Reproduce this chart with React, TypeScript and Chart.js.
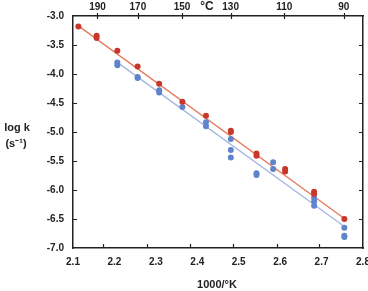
import React, { useEffect, useRef } from "react";
import { Chart, registerables } from "chart.js";

Chart.register(...registerables);

const redX = [2.113, 2.157, 2.157, 2.207, 2.256, 2.308, 2.364, 2.421, 2.481, 2.481, 2.543, 2.543, 2.612, 2.612, 2.682, 2.682, 2.755];
const redY = [-3.18, -3.34, -3.38, -3.6, -3.87, -4.17, -4.48, -4.72, -4.98, -5.0, -5.37, -5.41, -5.64, -5.68, -6.03, -6.07, -6.5];

const blueX = [2.207, 2.207, 2.256, 2.256, 2.308, 2.308, 2.364, 2.421, 2.421, 2.481, 2.481, 2.481, 2.543, 2.543, 2.583, 2.583, 2.682, 2.682, 2.682, 2.755, 2.755, 2.755];
const blueY = [-3.8, -3.85, -4.05, -4.07, -4.28, -4.32, -4.57, -4.83, -4.9, -5.12, -5.31, -5.44, -5.71, -5.74, -5.52, -5.64, -6.14, -6.2, -6.27, -6.65, -6.79, -6.81];

const redLineX = [2.113, 2.755];
const redLineY = [-3.17, -6.49];
const blueLineX = [2.207, 2.755];
const blueLineY = [-3.8, -6.63];

const celsiusTicks = [190, 170, 150, 130, 110, 90];
const bottomMarks = [2.172, 2.279, 2.382, 2.486, 2.592, 2.694];
const yMarks = [-6.5, -6.0, -5.5, -5.0, -4.5, -4.0, -3.5];

const FONT = "'Liberation Sans', Arial, sans-serif";
const INK = "#222";

const zip = (xs: number[], ys: number[]) => xs.map((x, i) => ({ x, y: ys[i] }));
const c2inv = (c: number) => 1000 / (c + 273.15);

const fitter = (size: { w?: number; h?: number }) => (scale: any) => {
  if (size.w !== undefined) scale.width = size.w;
  if (size.h !== undefined) scale.height = size.h;
  scale.paddingLeft = 0;
  scale.paddingRight = 0;
  scale.paddingTop = 0;
  scale.paddingBottom = 0;
};

const decor = {
  id: "decor",
  afterDraw(chart: any) {
    const ctx = chart.ctx;
    const a = chart.chartArea;
    const sx = chart.scales.x;
    const sy = chart.scales.y;
    ctx.save();
    ctx.strokeStyle = INK;
    ctx.lineWidth = 1.2;
    ctx.beginPath();
    yMarks.forEach((v) => {
      const py = Math.round(sy.getPixelForValue(v)) + 0.5;
      ctx.moveTo(a.left, py);
      ctx.lineTo(a.left + 4, py);
      ctx.moveTo(a.right, py);
      ctx.lineTo(a.right - 4, py);
    });
    celsiusTicks.forEach((c) => {
      const px = Math.round(sx.getPixelForValue(c2inv(c))) + 0.5;
      ctx.moveTo(px, a.top - 3);
      ctx.lineTo(px, a.top + 3);
    });
    bottomMarks.forEach((v) => {
      const px = Math.round(sx.getPixelForValue(v)) + 0.5;
      ctx.moveTo(px, a.bottom);
      ctx.lineTo(px, a.bottom - 4);
    });
    ctx.stroke();

    ctx.fillStyle = INK;
    ctx.textAlign = "center";
    ctx.textBaseline = "middle";
    ctx.font = `bold 11px ${FONT}`;
    ctx.fillText("log k", 17, 128);
    ctx.fillText("(s\u207B\u00B9)", 16, 144);
    ctx.fillText("1000/\u00B0K", 217, 285);
    ctx.font = `bold 12px ${FONT}`;
    ctx.fillText("\u00B0C", 207, 7);
    ctx.restore();
  },
};

export default function App() {
  const ref = useRef<HTMLCanvasElement | null>(null);
  useEffect(() => {
    document.body.style.margin = "0";
    if (!ref.current) return;
    const tickFont = { family: FONT, size: 10, weight: "bold" as const };
    const chart = new Chart(ref.current, {
      type: "scatter",
      data: {
        datasets: [
          {
            data: zip(redLineX, redLineY),
            showLine: true,
            borderColor: "#E5785C",
            borderWidth: 1.3,
            pointRadius: 0,
            order: 3,
          },
          {
            data: zip(blueLineX, blueLineY),
            showLine: true,
            borderColor: "#A3B6E2",
            borderWidth: 1.3,
            pointRadius: 0,
            order: 4,
          },
          {
            data: zip(blueX, blueY),
            backgroundColor: "#5F84CC",
            borderColor: "#5F84CC",
            pointRadius: 3,
            borderWidth: 0,
            order: 2,
          },
          {
            data: zip(redX, redY),
            backgroundColor: "#C8382A",
            borderColor: "#C8382A",
            pointRadius: 3,
            borderWidth: 0,
            order: 1,
          },
        ],
      },
      options: {
        animation: false,
        responsive: true,
        maintainAspectRatio: false,
        layout: { padding: 0 },
        plugins: { legend: { display: false }, tooltip: { enabled: false } },
        scales: {
          x: {
            type: "linear",
            position: "bottom",
            min: 2.1,
            max: 2.8,
            afterFit: fitter({ h: 43 }),
            grid: { display: true, drawOnChartArea: false, drawTicks: false },
            border: { display: true, color: INK, width: 1.5 },
            ticks: {
              stepSize: 0.1,
              autoSkip: false,
              maxRotation: 0,
              padding: 8,
              color: INK,
              font: tickFont,
              callback: (v: any) => Number(v).toFixed(1),
            },
          },
          x2: {
            type: "linear",
            position: "top",
            min: 2.1,
            max: 2.8,
            afterFit: fitter({ h: 16 }),
            afterBuildTicks: (scale: any) => {
              scale.ticks = celsiusTicks.map((c) => ({ value: c2inv(c) }));
            },
            grid: { display: true, drawOnChartArea: false, drawTicks: false },
            border: { display: true, color: INK, width: 1.5 },
            ticks: {
              autoSkip: false,
              maxRotation: 0,
              padding: 3,
              color: INK,
              font: tickFont,
              callback: (v: any) => String(Math.round(1000 / Number(v) - 273.15)),
            },
          },
          y: {
            type: "linear",
            position: "left",
            min: -7,
            max: -3,
            afterFit: fitter({ w: 73 }),
            grid: { display: true, drawOnChartArea: false, drawTicks: false },
            border: { display: true, color: INK, width: 1.5 },
            ticks: {
              stepSize: 0.5,
              autoSkip: false,
              padding: 9,
              color: INK,
              font: tickFont,
              callback: (v: any) => Number(v).toFixed(1),
            },
          },
          y2: {
            type: "linear",
            position: "right",
            min: -7,
            max: -3,
            afterFit: fitter({ w: 5 }),
            grid: { display: true, drawOnChartArea: false, drawTicks: false },
            border: { display: true, color: INK, width: 1.5 },
            ticks: { display: false },
          },
        },
      },
      plugins: [decor],
    });
    return () => chart.destroy();
  }, []);
  return (
    <div style={{ width: 368, height: 291, position: "relative" }}>
      <canvas ref={ref} />
    </div>
  );
}
